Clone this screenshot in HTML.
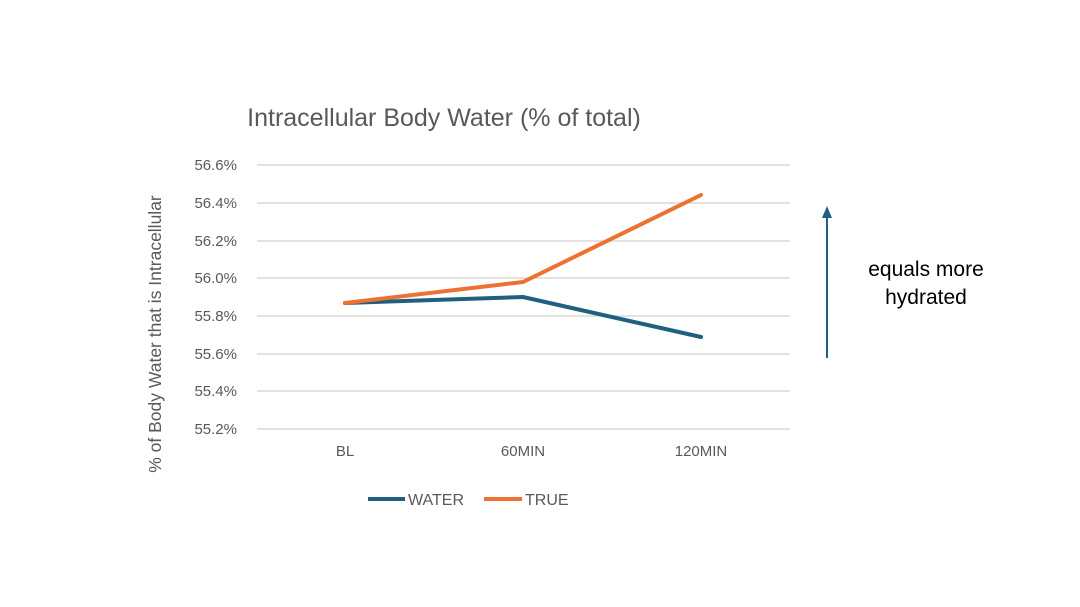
<!DOCTYPE html>
<html><head><meta charset="utf-8"><style>
html,body{margin:0;padding:0;background:#fff;}
svg{display:block;font-family:"Liberation Sans",sans-serif;}
</style></head><body>
<svg width="1080" height="607" viewBox="0 0 1080 607" xmlns="http://www.w3.org/2000/svg">
<rect width="1080" height="607" fill="#fff"/>
<text x="444" y="126" font-size="25" fill="#595959" text-anchor="middle">Intracellular Body Water (% of total)</text>
<g stroke="#d9d9d9" stroke-width="1.5">
<line x1="257" y1="165" x2="790" y2="165"/>
<line x1="257" y1="203" x2="790" y2="203"/>
<line x1="257" y1="241" x2="790" y2="241"/>
<line x1="257" y1="278" x2="790" y2="278"/>
<line x1="257" y1="316" x2="790" y2="316"/>
<line x1="257" y1="354" x2="790" y2="354"/>
<line x1="257" y1="391" x2="790" y2="391"/>
<line x1="257" y1="429" x2="790" y2="429"/>
</g>
<g font-size="15" fill="#595959" text-anchor="end">
<text x="237" y="170">56.6%</text>
<text x="237" y="208">56.4%</text>
<text x="237" y="246">56.2%</text>
<text x="237" y="283">56.0%</text>
<text x="237" y="321">55.8%</text>
<text x="237" y="359">55.6%</text>
<text x="237" y="396">55.4%</text>
<text x="237" y="434">55.2%</text>
</g>
<g font-size="15" fill="#595959" text-anchor="middle">
<text x="345" y="456">BL</text>
<text x="523" y="456">60MIN</text>
<text x="701" y="456">120MIN</text>
</g>
<text transform="translate(161,334) rotate(-90)" font-size="17.5" fill="#595959" text-anchor="middle">% of Body Water that is Intracellular</text>
<polyline points="345,303 523,297 701,337" fill="none" stroke="#1f5f80" stroke-width="4" stroke-linejoin="round" stroke-linecap="round"/>
<polyline points="345,303 523,282 701,195" fill="none" stroke="#ed7131" stroke-width="4" stroke-linejoin="round" stroke-linecap="round"/>
<line x1="368" y1="499" x2="405" y2="499" stroke="#1f5f80" stroke-width="4"/>
<text x="408" y="505" font-size="16" fill="#595959">WATER</text>
<line x1="484" y1="499" x2="522" y2="499" stroke="#ed7131" stroke-width="4"/>
<text x="525" y="505" font-size="16" fill="#595959">TRUE</text>
<line x1="827" y1="358" x2="827" y2="216" stroke="#1f5f80" stroke-width="2"/>
<polygon points="827,206 822,218 832,218" fill="#1f5f80"/>
<text x="926" y="276" font-size="21" fill="#000" text-anchor="middle">equals more</text>
<text x="926" y="304" font-size="21" fill="#000" text-anchor="middle">hydrated</text>
</svg>
</body></html>
